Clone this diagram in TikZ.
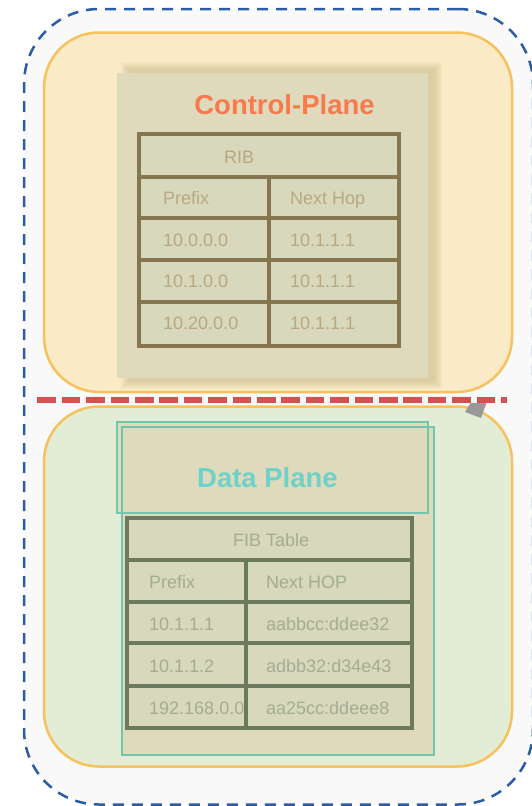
\documentclass[tikz,border=0pt]{standalone}
\usepackage{fontspec}
\setmainfont{Liberation Sans}
\definecolor{outerfill}{HTML}{F9F9F9}
\definecolor{outerline}{HTML}{2B5CA6}
\definecolor{ctrlfill}{HTML}{FAEBC6}
\definecolor{boxline}{HTML}{F7C15E}
\definecolor{datafill}{HTML}{E3EDD5}
\definecolor{sepred}{HTML}{D65050}
\definecolor{panelfill}{HTML}{E0DABC}
\definecolor{cellfill}{HTML}{D7D8BC}
\definecolor{ribline}{HTML}{857650}
\definecolor{ribtext}{HTML}{B8A880}
\definecolor{fibline}{HTML}{6B7A5C}
\definecolor{fibtext}{HTML}{A3AD92}
\definecolor{ctrltitle}{HTML}{F77A4F}
\definecolor{datatitle}{HTML}{6DD2C9}
\definecolor{tealline}{HTML}{70C6AE}
\definecolor{shadowtan}{HTML}{C2B385}
\definecolor{tabgray}{HTML}{999999}
\begin{document}
\begin{tikzpicture}[x=1pt,y=-1pt,
  region/.style={rectangle, inner sep=0pt, outer sep=0pt},
  planebox/.style={region, draw=boxline, line width=2.5pt, rounded corners=55pt},
  title/.style={inner sep=0pt, anchor=base, font=\bfseries\fontsize{27.5}{30}\selectfont},
  ribcell/.style={inner sep=0pt, anchor=base west, text=ribtext, font=\fontsize{18}{20}\selectfont},
  fibcell/.style={inner sep=0pt, anchor=base west, text=fibtext, font=\fontsize{18}{20}\selectfont},
  ribgrid/.style={draw=ribline, line width=3.2pt},
  fibgrid/.style={draw=fibline, line width=3.6pt},
]
\useasboundingbox (0,0) rectangle (532,806);

% outer dashed frame
\node[region, fill=outerfill, draw=outerline, line width=2.5pt,
      dash pattern=on 11pt off 8pt, rounded corners=75pt,
      minimum width=509pt, minimum height=795.5pt] (frame) at (278.5,406.75) {};

% the two planes
\node[planebox, fill=ctrlfill, minimum width=468pt, minimum height=359.5pt] (ctrl) at (278,212.25) {};
\node[planebox, fill=datafill, minimum width=468pt, minimum height=360pt] (data) at (278,586.5) {};

% separator between the planes
\coordinate (sepL) at (37.3,400);
\coordinate (sepR) at (507,400);
\draw[sepred, line width=6pt, dash pattern=on 18.7pt off 5.7pt] (sepL) -- (sepR);

% small grey tab
\fill[tabgray] (470.5,403) -- (486.5,403) -- (481,418) -- (465,412) -- cycle;

% ---------- control plane ----------
\foreach \i in {0,...,8}
  \fill[shadowtan, opacity=0.07] (129-\i,70-\i) rectangle (434+\i,381+\i);
\node[region, fill=panelfill, minimum width=311pt, minimum height=305pt] (ctrlpanel) at (272.5,225.5) {};
\node[title, text=ctrltitle] (ctrltitle) at (284.5,114) {Control-Plane};

% RIB table
\fill[cellfill] (139,134) rectangle (399,346);
\node[ribcell] (ribhead) at (224,163.5) {RIB};
\node[ribcell] (ribp) at (163,204.5) {Prefix};
\node[ribcell] (ribn) at (290,204.5) {Next Hop};
\node[ribcell] (rib1a) at (163,246.5) {10.0.0.0};
\node[ribcell] (rib1b) at (290,246.5) {10.1.1.1};
\node[ribcell] (rib2a) at (163,287.5) {10.1.0.0};
\node[ribcell] (rib2b) at (290,287.5) {10.1.1.1};
\node[ribcell] (rib3a) at (163,329.5) {10.20.0.0};
\node[ribcell] (rib3b) at (290,329.5) {10.1.1.1};
\draw[ribgrid] (139,134) rectangle (399,346);
\foreach \y in {177,218,260,302} \draw[ribgrid] (139,\y) -- (399,\y);
\draw[ribgrid] (269,177) -- (269,346);

% ---------- data plane ----------
\fill[panelfill] (117,422) rectangle (428,513);
\node[region, fill=panelfill, draw=tealline, line width=1.8pt,
      minimum width=312pt, minimum height=328pt] (datapanel) at (278,591) {};
\node[region, draw=tealline, line width=1.8pt,
      minimum width=311pt, minimum height=91pt] (datahead) at (272.5,467.5) {};
\node[title, text=datatitle] (datatitle) at (267.5,487.3) {Data Plane};

% FIB table
\fill[cellfill] (127,518) rectangle (412,728);
\node[fibcell] (fibhead) at (233,546.5) {FIB Table};
\node[fibcell] (fibp) at (149,588.5) {Prefix};
\node[fibcell] (fibn) at (266,588.5) {Next HOP};
\node[fibcell] (fib1a) at (149,630.5) {10.1.1.1};
\node[fibcell] (fib1b) at (266,630.5) {aabbcc:ddee32};
\node[fibcell] (fib2a) at (149,672.5) {10.1.1.2};
\node[fibcell] (fib2b) at (266,672.5) {adbb32:d34e43};
\node[fibcell] (fib3a) at (149,714.5) {192.168.0.0};
\node[fibcell] (fib3b) at (266,714.5) {aa25cc:ddeee8};
\draw[fibgrid] (127,518) rectangle (412,728);
\foreach \y in {560,602,643,686} \draw[fibgrid] (127,\y) -- (412,\y);
\draw[fibgrid] (246,560) -- (246,728);
\end{tikzpicture}
\end{document}
